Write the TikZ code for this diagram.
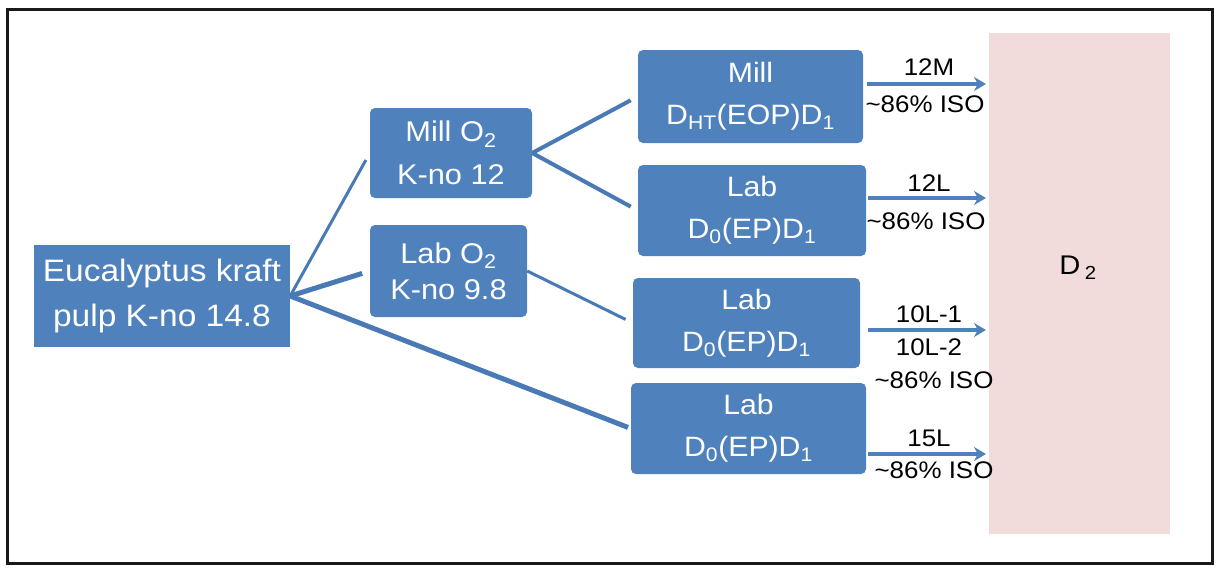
\documentclass[tikz,border=0pt]{standalone}
\usepackage{fontspec}
\setmainfont{Liberation Sans}[FakeStretch=1.08]
\usetikzlibrary{arrows.meta}
\definecolor{boxblue}{HTML}{4F81BD}
\definecolor{linkblue}{HTML}{4A7AB5}
\definecolor{pinkfill}{HTML}{F2DCDB}
\tikzset{
  stepbox/.style={fill=boxblue, draw=none, rounded corners=5pt, text=white, align=center,
    inner sep=0pt, font=\fontsize{28}{42}\selectfont},
  link/.style={draw=linkblue, line width=3.5pt},
  outarrow/.style={draw=boxblue, line width=4pt, -{Stealth[length=12pt,width=14pt]}},
  lbl/.style={font=\fontsize{24}{26}\selectfont, inner sep=0pt, text=black}
}
\begin{document}
\begin{tikzpicture}[x=1pt,y=-1pt]
\useasboundingbox (0,0) rectangle (1227,570);
\node[draw=black!90, line width=2.2pt, minimum width=1205pt, minimum height=554pt, inner sep=0pt] (frame) at (610,286.5) {};
\node[fill=pinkfill, minimum width=181pt, minimum height=501pt, inner sep=0pt] (d2) at (1079.5,283.5) {};
\node[font=\fontsize{27}{30}\selectfont] (d2lbl) at (1078,268) {D\,\textsubscript{2}};

\node[stepbox, rounded corners=0pt, minimum width=256pt, minimum height=102pt,
  font=\fontsize{31}{45}\selectfont] (euc) at (162,296)
  {Eucalyptus kraft\\pulp K-no 14.8};
\node[stepbox, minimum width=162pt, minimum height=90pt,
  font=\fontsize{28.5}{43}\selectfont] (millo) at (451,153)
  {Mill O\textsubscript{2}\\K-no 12};
\node[stepbox, minimum width=157pt, minimum height=92pt,
  font=\fontsize{28.5}{36}\selectfont] (labo) at (448.5,271)
  {Lab O\textsubscript{2}\\K-no 9.8};
\node[stepbox, minimum width=225pt, minimum height=93pt] (milld) at (750.5,96.5)
  {Mill\\D\textsubscript{HT}(EOP)D\textsubscript{1}};
\node[stepbox, minimum width=228pt, minimum height=91pt] (lab12) at (752,210.5)
  {Lab\\D\textsubscript{0}(EP)D\textsubscript{1}};
\node[stepbox, minimum width=227pt, minimum height=90pt] (lab10) at (746.5,323)
  {Lab\\D\textsubscript{0}(EP)D\textsubscript{1}};
\node[stepbox, minimum width=235pt, minimum height=91pt] (lab15) at (748.5,428.5)
  {Lab\\D\textsubscript{0}(EP)D\textsubscript{1}};

\draw[link, line width=3pt, shorten >=8pt] (euc.east) -- (millo.west);
\draw[link, line width=5pt, shorten >=8pt] (euc.east) -- (labo.west);
\draw[link, line width=5pt, shorten >=3pt] (euc.east) -- (lab15.west);
\draw[link, line width=4pt, shorten >=8pt] (millo.east) -- (milld.west);
\draw[link, line width=4pt, shorten >=8pt] (millo.east) -- (lab12.west);
\draw[link, line width=3pt, shorten >=8pt] (labo.east) -- (lab10.west);

\coordinate (s1) at (867,84);  \coordinate (e1) at (986,84);
\coordinate (s2) at (868,198); \coordinate (e2) at (986,198);
\coordinate (s3) at (868,330); \coordinate (e3) at (986,330);
\coordinate (s4) at (868,454); \coordinate (e4) at (986,454);
\draw[outarrow] (s1) -- (e1);
\draw[outarrow] (s2) -- (e2);
\draw[outarrow] (s3) -- (e3);
\draw[outarrow] (s4) -- (e4);

\node[lbl] (t1a) at (929,67) {12M};
\node[lbl] (t1b) at (925,104) {\textasciitilde86\% ISO};
\node[lbl] (t2a) at (929,183) {12L};
\node[lbl] (t2b) at (926,221) {\textasciitilde86\% ISO};
\node[lbl] (t3a) at (929,314) {10L-1};
\node[lbl] (t3b) at (929,347) {10L-2};
\node[lbl] (t3c) at (934,380) {\textasciitilde86\% ISO};
\node[lbl] (t4a) at (929,438) {15L};
\node[lbl] (t4b) at (934,470) {\textasciitilde86\% ISO};
\end{tikzpicture}
\end{document}
